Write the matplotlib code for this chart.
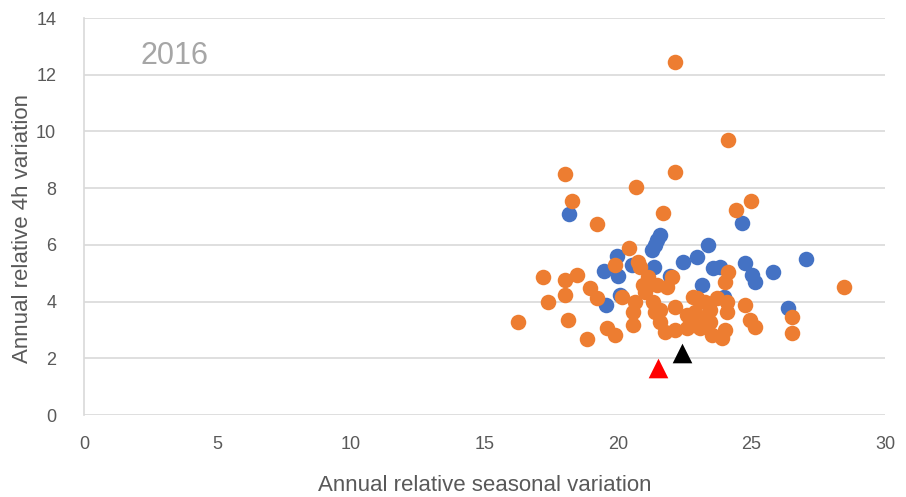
import matplotlib
matplotlib.use("Agg")
import matplotlib.pyplot as plt

blue_x = [18.16, 19.48, 19.55, 19.96, 20.00, 20.07, 20.52, 21.35, 21.27, 21.39, 21.57, 21.46,
          21.95, 22.43, 22.96, 23.37, 23.56, 23.82, 23.15, 23.97, 24.64, 24.76, 25.02, 25.13,
          25.81, 27.04, 26.37]
blue_y = [7.09, 5.08, 3.88, 5.61, 4.90, 4.23, 5.29, 5.22, 5.82, 5.99, 6.35, 6.17,
          4.90, 5.39, 5.57, 5.99, 5.18, 5.22, 4.58, 4.16, 6.77, 5.36, 4.94, 4.69,
          5.04, 5.50, 3.77]

orange_x = [16.25, 17.19, 17.38, 18.01, 18.28, 18.01, 18.46, 18.01, 18.13, 18.84, 18.95, 19.21,
            19.21, 19.59, 19.89, 19.89, 20.15, 20.41, 20.67, 20.75, 20.82, 21.12, 20.94, 21.46,
            21.84, 22.02, 21.69, 22.13, 22.13, 20.64, 21.01, 21.31, 22.13, 20.56, 20.56, 21.39,
            21.57, 21.76, 22.13, 22.58, 22.96, 23.07, 23.33, 22.88, 22.88, 23.26, 23.45, 23.71,
            24.08, 24.08, 23.45, 24.01, 23.52, 23.90, 24.12, 24.01, 24.12, 24.42, 24.98, 24.76,
            24.94, 25.13, 26.52, 26.52, 28.45, 22.81, 21.57, 22.58]
orange_y = [3.28, 4.87, 3.98, 8.50, 7.55, 4.76, 4.94, 4.23, 3.35, 2.68, 4.48, 4.13,
            6.73, 3.07, 2.82, 5.29, 4.16, 5.89, 8.04, 5.39, 5.22, 4.87, 4.58, 4.58,
            4.51, 4.87, 7.12, 8.57, 12.45, 3.98, 4.34, 3.98, 3.81, 3.63, 3.17, 3.63,
            3.28, 2.93, 3.00, 3.07, 4.13, 3.07, 3.42, 3.63, 3.17, 3.98, 3.70, 4.13,
            3.98, 3.63, 3.28, 3.00, 2.82, 2.72, 5.04, 4.69, 9.70, 7.23, 7.55, 3.88,
            3.35, 3.10, 3.46, 2.89, 4.51, 4.16, 3.70, 3.53]

black_tri = (22.4, 2.2)
red_tri = (21.5, 1.65)

x_ticks = [0, 5, 10, 15, 20, 25, 30]
y_ticks = [0, 2, 4, 6, 8, 10, 12, 14]

plt.rcParams['font.family'] = ['Liberation Sans', 'DejaVu Sans']

fig = plt.figure(figsize=(9.06, 4.97), dpi=100)
ax = fig.add_axes([84/906, 1-415/497, (885-84)/906, (415-18)/497])

ax.scatter(blue_x, blue_y, s=125, color='#4472C4', zorder=3, linewidths=0)
ax.scatter(orange_x, orange_y, s=125, color='#ED7D31', zorder=4, linewidths=0)
ax.scatter([black_tri[0]], [black_tri[1]], marker='^', s=200, color='black', zorder=5, linewidths=0)
ax.scatter([red_tri[0]], [red_tri[1]], marker='^', s=200, color='#FF0000', zorder=5, linewidths=0)

ax.set_xlim(0, 30)
ax.set_ylim(0, 14)
ax.set_xticks(x_ticks)
ax.set_yticks(y_ticks)
ax.tick_params(axis='x', length=0, labelsize=13, colors='#595959', pad=15)
ax.tick_params(axis='y', length=0, labelsize=13, colors='#595959', pad=20)
ax.grid(axis='y', color='#D9D9D9', linewidth=1.2)
ax.set_axisbelow(True)
for s in ['top', 'right', 'bottom']:
    ax.spines[s].set_visible(False)
ax.spines['left'].set_color('#D9D9D9')
ax.spines['left'].set_linewidth(1.2)

ax.set_xlabel('Annual relative seasonal variation', fontsize=16, color='#595959', labelpad=16)
ax.set_ylabel('Annual relative 4h variation', fontsize=16, color='#595959')
ax.yaxis.set_label_coords(-0.064, 0.47)
ax.text(2.1, 12.65, '2016', fontsize=22, color='#A6A6A6', va='center', ha='left')

fig.savefig('out.png', dpi=100)
